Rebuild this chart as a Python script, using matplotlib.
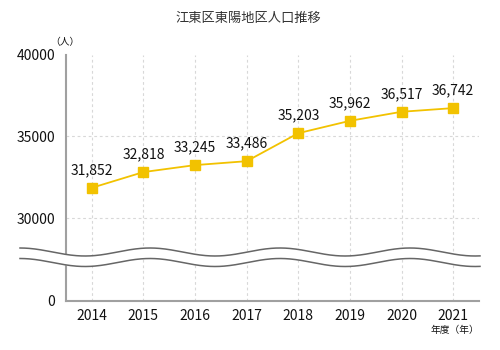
import matplotlib
matplotlib.use("Agg")
import matplotlib.pyplot as plt
import numpy as np

plt.rcParams['font.family'] = ['Noto Sans CJK JP', 'DejaVu Sans']

TITLE = "江東区東陽地区人口推移"
years = [2014, 2015, 2016, 2017, 2018, 2019, 2020, 2021]
population = [31852, 32818, 33245, 33486, 35203, 35962, 36517, 36742]
y_ticks = [0, 30000, 35000, 40000]

LINE_COLOR = '#f2c200'
AXIS_COLOR = '#a0a0a0'
GRID_COLOR = '#d8d8d8'
TEXT_COLOR = '#111111'

BREAK_AT = 30000
LOW_SPAN = 83 / 163 * 10000  # compressed height of the 0-30000 band


def forward(y):
    y = np.asarray(y, dtype=float)
    return np.where(y < BREAK_AT, y / BREAK_AT * LOW_SPAN, LOW_SPAN + (y - BREAK_AT))


def inverse(v):
    v = np.asarray(v, dtype=float)
    return np.where(v < LOW_SPAN, v / LOW_SPAN * BREAK_AT, BREAK_AT + (v - LOW_SPAN))


fig = plt.figure(figsize=(5, 3.5), dpi=100)
ax = fig.add_axes([66 / 500, 1 - 301 / 350, 413 / 500, 246 / 350])
ax.set_yscale('function', functions=(forward, inverse))
ax.set_ylim(0, 40000)
ax.set_xlim(2013.5, 2021.5)

ax.plot(years, population, color=LINE_COLOR, lw=1.3, marker='s', ms=7.5,
        mfc=LINE_COLOR, mec=LINE_COLOR, zorder=3, clip_on=False)
for x, y in zip(years, population):
    ax.annotate(f"{y:,}", (x, y), xytext=(0, 7.5), textcoords='offset points',
                ha='center', va='bottom', fontsize=10, color=TEXT_COLOR)

ax.set_xticks(years)
ax.set_xticklabels([str(y) for y in years], fontsize=10, color=TEXT_COLOR)
ax.set_yticks(y_ticks)
ax.set_yticklabels([str(t) for t in y_ticks], fontsize=10, color=TEXT_COLOR)
ax.tick_params(length=0)
ax.tick_params(axis='y', pad=8)
ax.tick_params(axis='x', pad=6)

for s in ['top', 'right']:
    ax.spines[s].set_visible(False)
for s in ['left', 'bottom']:
    ax.spines[s].set_color(AXIS_COLOR)
    ax.spines[s].set_linewidth(1.5)

for x in years:
    ax.axvline(x, color=GRID_COLOR, lw=0.8, ls=(0, (2.5, 2.5)), zorder=0)
for y in [30000, 35000]:
    ax.axhline(y, color=GRID_COLOR, lw=0.8, ls=(0, (2.5, 2.5)), zorder=0)

# axis break: two wavy lines with white between
wx = np.linspace(-46 / 413, 1.0 + 1 / 413, 400)
amp = 4 / 246
wave = amp * np.cos(2 * np.pi * (wx - 84 / 413) / (130 / 413))
upper = 49 / 246 + wave
lower = 38.5 / 246 + wave
ax.fill_between(wx, lower, upper, color='white', transform=ax.transAxes,
                zorder=4, clip_on=False, lw=0)
ax.plot(wx, upper, color='#666666', lw=1.1, transform=ax.transAxes, zorder=5, clip_on=False)
ax.plot(wx, lower, color='#666666', lw=1.1, transform=ax.transAxes, zorder=5, clip_on=False)

fig.text(0.497, 1 - 18 / 350, TITLE, ha='center', va='center', fontsize=9.5, color='#333333')
fig.text(65 / 500, 1 - 42 / 350, "（人）", ha='center', va='center', fontsize=7, color=TEXT_COLOR)
fig.text(479 / 500, 1 - 330 / 350, "年度（年）", ha='right', va='center', fontsize=7, color=TEXT_COLOR)

fig.savefig("out.png", dpi=100)
